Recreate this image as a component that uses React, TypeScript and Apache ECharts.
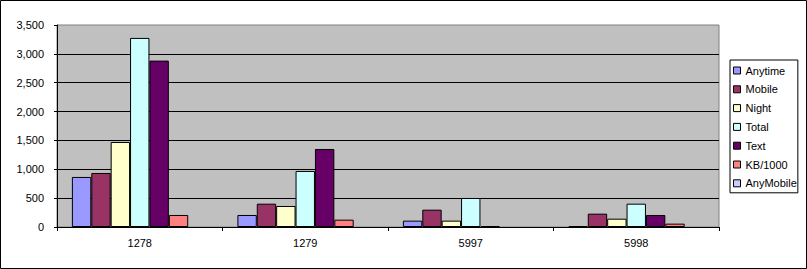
import React, { useEffect, useRef } from "react";
import * as echarts from "echarts";

const categories = ["1278", "1279", "5997", "5998"];
const seriesNames = ["Anytime", "Mobile", "Night", "Total", "Text", "KB/1000", "AnyMobile"];
const anytime = [867, 208, 110, 17];
const mobile = [936, 404, 300, 231];
const night = [1473, 364, 110, 144];
const total = [3276, 971, 503, 404];
const text = [2883, 1352, 17, 208];
const kb1000 = [208, 127, 0, 58];
const anyMobile = [0, 0, 0, 0];
const colors = ["#9999FF", "#993366", "#FFFFCC", "#CCFFFF", "#660066", "#FF8080", "#CCCCFF"];
const yTicks = { min: 0, max: 3500, interval: 500 };

export default function App() {
  const ref = useRef<HTMLDivElement>(null);
  useEffect(() => {
    document.body.style.margin = "0";
    const chart = echarts.init(ref.current!, null, { renderer: "svg" });
    const values = [anytime, mobile, night, total, text, kb1000, anyMobile];
    const font = "Liberation Sans, Arial, sans-serif";
    chart.setOption({
      animation: false,
      backgroundColor: "#FFFFFF",
      textStyle: { fontFamily: font },
      grid: {
        left: 57,
        right: 88,
        top: 25,
        bottom: 42,
        show: true,
        backgroundColor: "#C0C0C0",
        borderColor: "#808080",
        borderWidth: 1,
      },
      legend: {
        orient: "vertical",
        left: 730,
        top: 60,
        padding: [5, 1, 4, 3],
        itemWidth: 7,
        itemHeight: 7,
        itemGap: 7.8,
        icon: "rect",
        borderColor: "#000000",
        borderWidth: 1,
        backgroundColor: "#FFFFFF",
        itemStyle: { borderColor: "#000000", borderWidth: 1 },
        textStyle: { fontSize: 11, color: "#000000", fontFamily: font, lineHeight: 11 },
        data: seriesNames,
      },
      xAxis: {
        type: "category",
        data: categories,
        axisLine: { lineStyle: { color: "#000000", width: 1 } },
        axisTick: { show: true, length: 4, lineStyle: { color: "#000000" } },
        axisLabel: { fontSize: 11, color: "#000000", margin: 10, fontFamily: font },
        splitLine: { show: false },
      },
      yAxis: {
        type: "value",
        min: yTicks.min,
        max: yTicks.max,
        interval: yTicks.interval,
        axisLine: { show: true, lineStyle: { color: "#000000", width: 1 } },
        axisTick: { show: true, length: 3, lineStyle: { color: "#000000" } },
        axisLabel: {
          fontSize: 11,
          color: "#000000",
          margin: 13,
          fontFamily: font,
          formatter: (v: number) => v.toLocaleString("en-US"),
        },
        splitLine: { show: true, showMaxLine: false, lineStyle: { color: "#000000", width: 1 } },
      },
      series: seriesNames.map((name, i) => ({
        name,
        type: "bar",
        data: values[i].map((v) => (v === 0 ? "-" : v)),
        barGap: "0%",
        barCategoryGap: "18%",
        itemStyle: { color: colors[i], borderColor: "#000000", borderWidth: 1 },
      })),
      graphic: [
        {
          type: "rect",
          shape: { x: 0.5, y: 0.5, width: 806, height: 268 },
          style: { fill: "none", stroke: "#000000", lineWidth: 1 },
          silent: true,
          z: 100,
        },
      ],
    });
    return () => chart.dispose();
  }, []);
  return <div ref={ref} style={{ width: 807, height: 269 }} />;
}
